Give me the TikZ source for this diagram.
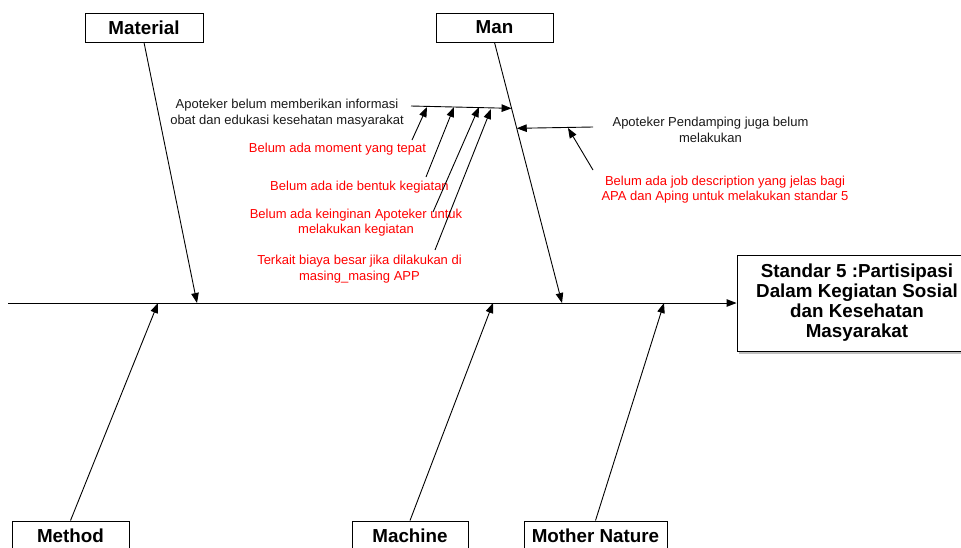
\documentclass[tikz,border=0pt]{standalone}
\usepackage{fontspec}
\setmainfont{Liberation Sans}
\usetikzlibrary{arrows.meta,calc,shadows}

\begin{document}
\begin{tikzpicture}[x=1pt,y=-1pt,>={Triangle[length=10pt,width=7.5pt]},line width=0.9pt,
    bone node/.style={draw,minimum height=29pt,inner sep=0pt,font=\bfseries\fontsize{18.8}{20}\selectfont},
    cause node/.style={align=center,inner sep=0pt,text=black!90,font=\fontsize{13}{15.5}\selectfont},
    sub node/.style={cause node,text=red}]

    \clip (0,0) rectangle (961,547);

    % bone boxes
    \node[bone node, minimum width=118pt] (1) at (144,27.5) {Material};
    \node[bone node, minimum width=117pt] (2) at (494.5,27.5) {Man};
    \node[bone node, minimum width=117pt] (3) at (70.5,535.5) {Method};
    \node[bone node, minimum width=116pt] (4) at (410,535.5) {Machine};
    \node[bone node, minimum width=143pt] (5) at (595.5,535.5) {Mother Nature};
    \node[bone node, minimum width=240pt, minimum height=96pt, align=center, fill=white,
          drop shadow={shadow xshift=2pt,shadow yshift=-2.5pt,fill=gray!50,opacity=1}] (6) at (857,303)
          {Standar 5 :Partisipasi\\Dalam Kegiatan Sosial\\dan Kesehatan\\Masyarakat};

    % where the bones meet the spine
    \coordinate (0) at (8,303);
    \coordinate (1t) at (197,303);
    \coordinate (2t) at (562,303);
    \coordinate (3t) at (158,303);
    \coordinate (4t) at (493,303);
    \coordinate (5t) at (664,303);

    % causes on Man
    \node[cause node] (7) at (287,113) {Apoteker belum memberikan informasi\\obat dan edukasi kesehatan masyarakat};
    \node[sub node] (8) at (337.5,149) {Belum ada moment yang tepat};
    \node[sub node] (9) at (359.5,187) {Belum ada ide bentuk kegiatan};
    \node[sub node] (10) at (356,222.5) {Belum ada keinginan Apoteker untuk\\melakukan kegiatan};
    \node[sub node] (11) at (359.5,269) {Terkait biaya besar jika dilakukan di\\masing\_masing APP};
    \node[cause node] (12) at (710.5,130) {Apoteker Pendamping juga belum\\melakukan};
    \node[sub node] (13) at (725,189.5) {Belum ada job description yang jelas bagi\\APA dan Aping untuk melakukan standar 5};

    \coordinate (a1) at (411,106);
    \coordinate (a2) at ($(2.south)!0.2529!(2t)$);
    \coordinate (b1) at (593,127);
    \coordinate (b2) at ($(2.south)!0.3295!(2t)$);

    \coordinate (8s) at (412,140);
    \coordinate (9s) at (426,177);
    \coordinate (10s) at (433,212);
    \coordinate (11s) at (435,250);
    \coordinate (8t) at (427,107);
    \coordinate (9t) at (454,107);
    \coordinate (10t) at (479,107);
    \coordinate (11t) at (491,109);
    \coordinate (13s) at (593,170);
    \coordinate (13t) at (568,128);

    \path[->]
        (0) edge (6.west)
        (1.south) edge (1t)
        (2.south) edge (2t)
        (3.north) edge (3t)
        (4.north) edge (4t)
        (5.north) edge (5t)

        (a1) edge (a2)
        (b1) edge (b2)
        (8s) edge (8t)
        (9s) edge (9t)
        (10s) edge (10t)
        (11s) edge (11t)
        (13s) edge (13t)
    ;
\end{tikzpicture}
\end{document}
